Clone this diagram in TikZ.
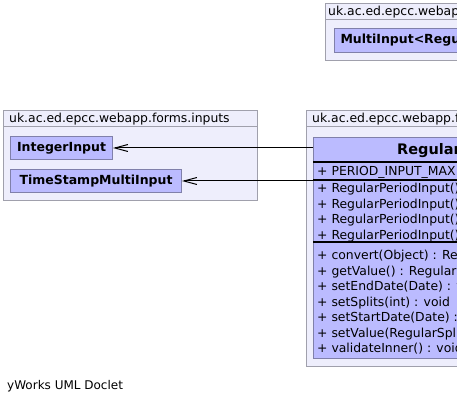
\documentclass[tikz,border=0pt]{standalone}
\usepackage{fontspec}
\setmainfont{DejaVu Sans}
\usetikzlibrary{arrows.meta,positioning}
\definecolor{pkgfill}{RGB}{238,238,252}
\definecolor{pkgline}{RGB}{160,160,172}
\definecolor{clsfill}{RGB}{187,187,255}
\definecolor{clsline}{RGB}{128,128,170}

\begin{document}
\begin{tikzpicture}[x=1pt,y=-1pt,
  pkg/.style={draw=pkgline,fill=pkgfill,line width=1pt,anchor=north west,inner sep=0pt},
  cls/.style={draw=clsline,fill=clsfill,line width=1pt,anchor=north west,inner sep=0pt},
  clsbox/.style={cls,inner xsep=6pt,font=\fontsize{12.5}{14}\selectfont\bfseries},
  txt/.style={anchor=west,inner sep=0pt,text height=9pt,text depth=0pt,font=\fontsize{12.4}{14}\selectfont},
  title/.style={txt,font=\fontsize{14.5}{16}\selectfont\bfseries},
  sep/.style={line width=1.2pt,black},
  dep/.style={line width=1pt,-{Straight Barb[length=13pt,width=7pt,line width=1pt]}}]%
\useasboundingbox (0,0) rectangle (457,403);%
\clip (0,0) rectangle (457,403);%
% packages
\node[pkg,minimum width=240pt,minimum height=57pt] (toppkg) at (325,3) {};%
\draw[pkgline,line width=1pt] (toppkg.west |- 0,20) -- (toppkg.east |- 0,20);%
\node[txt] (toppkgname) at (328,11.5) {uk.ac.ed.epcc.webapp};%
\node[pkg,minimum width=254pt,minimum height=90pt] (inputspkg) at (3,110) {};%
\draw[pkgline,line width=1pt] (inputspkg.west |- 0,127) -- (inputspkg.east |- 0,127);%
\node[txt] (inputspkgname) at (9,118.5) {uk.ac.ed.epcc.webapp.forms.inputs};%
\node[pkg,minimum width=260pt,minimum height=256pt] (formspkg) at (306,110) {};%
\draw[pkgline,line width=1pt] (formspkg.west |- 0,127) -- (formspkg.east |- 0,127);%
\node[txt] (formspkgname) at (312,118.5) {uk.ac.ed.epcc.webapp.forms};%
% classes
\node[clsbox,minimum height=24pt] (multiinput) at (334,28) {MultiInput<RegularSplitPeriod>};%
\node[clsbox,minimum width=102pt,minimum height=23pt] (intinput) at (10,136) {IntegerInput};%
\node[clsbox,minimum width=171pt,minimum height=23pt] (tsinput) at (10,169) {TimeStampMultiInput};%
\node[cls,minimum width=250pt,minimum height=221pt] (regular) at (313,137) {};%
\node[title] (regulartitle) at (397,150) {RegularPeriodInput};%
\foreach \y in {162,180,242}
  \draw[sep] (regular.west |- 0,\y) -- (regular.east |- 0,\y);%
\node[txt] (periodmax) at (317,171) {+ \underline{PERIOD\_INPUT\_MAX}};%
\foreach \y in {188,203.5,219,234.5}
  \node[txt] at (317,\y) {+ RegularPeriodInput()};%
\foreach \y/\op in {255/convert(Object) : RegularSplitPeriod,
    270.5/getValue() : RegularSplitPeriod,
    286/setEndDate(Date) : void,
    301.5/setSplits(int) : void,
    317/setStartDate(Date) : void,
    332.5/setValue(RegularSplitPeriod) : void,
    348/validateInner() : void}
  \node[txt] at (317,\y) {+ \op};%
% dependencies
\draw[dep] (intinput.east -| regular.west) -- (intinput.east);%
\draw[dep] (tsinput.east -| regular.west) -- (tsinput.east);%
\node[txt,font=\fontsize{12}{14}\selectfont] (doclet) at (7,385) {yWorks UML Doclet};%
\end{tikzpicture}
\end{document}
